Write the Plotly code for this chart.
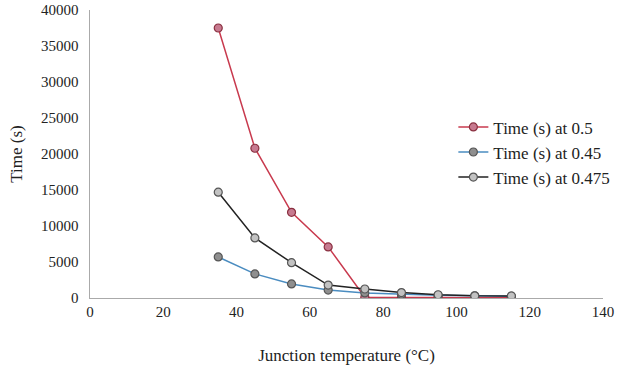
import plotly.graph_objects as go

temps = [35, 45, 55, 65, 75, 85, 95, 105, 115]
t_05 = [37500, 20800, 11900, 7100, 100, 80, 60, 50, 40]
t_045 = [5700, 3350, 1950, 1100, 700, 500, 380, 300, 250]
t_0475 = [14700, 8350, 4900, 1800, 1250, 750, 450, 300, 280]

series = [
    ("Time (s) at 0.5", t_05, "#c83a4e", "#c77a90", "#8a3040"),
    ("Time (s) at 0.45", t_045, "#4a8cc0", "#8f8f8f", "#555555"),
    ("Time (s) at 0.475", t_0475, "#222222", "#c2c2c2", "#555555"),
]

fig = go.Figure()
for name, ys, lc, mfill, mline in series:
    fig.add_trace(go.Scatter(
        x=temps, y=ys, name=name, mode="lines+markers",
        line=dict(color=lc, width=1.5),
        marker=dict(size=8, color=mfill, line=dict(color=mline, width=1.2)),
    ))

font = "Liberation Serif, Times New Roman, serif"
fig.update_layout(
    width=618, height=376,
    margin=dict(l=90, r=0, t=10, b=78, autoexpand=False),
    paper_bgcolor="white", plot_bgcolor="white",
    font=dict(family=font, size=15, color="#222"),
    showlegend=True,
    legend=dict(x=0.995, y=0.655, xanchor="right", yanchor="top",
                font=dict(family=font, size=17, color="#222"),
                bgcolor="rgba(0,0,0,0)", tracegroupgap=4, itemwidth=30,
                borderwidth=0),
    xaxis=dict(range=[0, 140], dtick=20, showgrid=False, zeroline=False,
               domain=[0, 513 / 528], automargin=False,
               showline=True, linecolor="#aaaaaa", linewidth=1,
               ticks="", tickfont=dict(family=font, size=15),
               title=dict(text="Junction temperature (°C)", font=dict(family=font, size=17), standoff=30)),
    yaxis=dict(range=[0, 40000], dtick=5000, showgrid=False, zeroline=False,
               showline=True, linecolor="#aaaaaa", linewidth=1, tickformat="d",
               ticks="", tickfont=dict(family=font, size=15), ticksuffix="  ",
               title=dict(text="Time (s)", font=dict(family=font, size=17), standoff=14)),
)

fig.write_html("out.html")
